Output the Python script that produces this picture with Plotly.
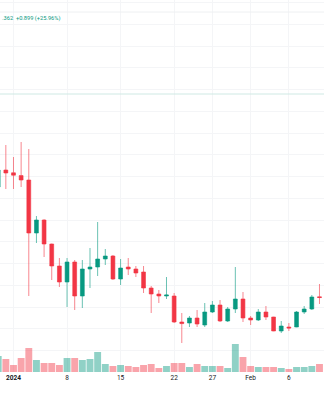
import pandas as pd
import plotly.graph_objects as go

# Daily OHLC candles, 30 Dec 2023 - 10 Feb 2024
dates = pd.date_range("2023-12-30", "2024-02-10", freq="D")

open_ = [7.125, 7.55, 7.48, 7.41, 7.30, 5.975, 6.30, 5.70, 5.15, 4.75,
         5.25, 4.40, 5.075, 5.125, 5.325, 5.40, 4.825, 5.125, 5.075, 5.00,
         4.60, 4.45, 4.40, 4.40, 3.75, 3.725, 3.85, 3.675, 4.00, 4.175,
         3.775, 4.075, 4.325, 3.85, 3.80, 4.00, 3.875, 3.525, 3.625, 3.625,
         4.00, 4.075, 4.38]
high = [7.65, 8.175, 7.875, 8.25, 8.075, 6.40, 6.32, 5.71, 5.35, 5.35,
        5.30, 5.30, 5.60, 6.25, 5.575, 5.425, 5.325, 5.35, 5.15, 5.15,
        4.65, 4.55, 4.875, 4.475, 3.975, 3.90, 4.05, 4.225, 4.275, 4.30,
        4.125, 5.125, 4.50, 3.90, 4.075, 4.15, 3.88, 3.775, 3.725, 4.025,
        4.15, 4.425, 4.70]
low = [7.05, 7.075, 7.075, 7.125, 4.40, 5.725, 5.375, 4.80, 4.625, 4.125,
       4.05, 4.10, 4.60, 4.90, 5.175, 4.80, 4.675, 4.925, 4.875, 4.475,
       3.975, 4.225, 4.325, 3.725, 3.225, 3.625, 3.625, 3.625, 3.975, 3.75,
       3.75, 3.975, 3.75, 3.675, 3.775, 3.80, 3.52, 3.475, 3.525, 3.62,
       3.95, 4.05, 4.20]
close = [7.55, 7.475, 7.42, 7.30, 5.975, 6.30, 5.70, 5.15, 4.75, 5.25,
         4.40, 5.075, 5.125, 5.325, 5.40, 4.825, 5.10, 5.075, 4.975, 4.60,
         4.45, 4.40, 4.425, 3.75, 3.71, 3.85, 3.70, 4.00, 4.175, 3.775,
         4.075, 4.325, 3.85, 3.80, 4.00, 3.875, 3.525, 3.65, 3.60, 4.00,
         4.075, 4.375, 4.362]

# Daily volume (millions)
volume = [16, 13, 7, 14, 24, 12, 9, 9, 7, 14,
          14, 12, 13, 20, 8, 6, 7, 6, 5, 7,
          8, 4, 6, 9, 9, 5, 8, 6, 6, 6,
          4, 28, 15, 6, 5, 5, 5, 4, 3, 5,
          5, 6, 8]

tick_dates = ["2024-01-01", "2024-01-08", "2024-01-15", "2024-01-22",
              "2024-01-27", "2024-02-01", "2024-02-06"]
tick_text = ["<b>2024</b>", "8", "15", "22", "27", "Feb", "6"]

legend_text = ".362  +0.899 (+25.96%)"

UP = "#089981"
DOWN = "#f23645"
UP_VOL = "rgba(8,153,129,0.45)"
DOWN_VOL = "rgba(242,54,69,0.45)"
GRID = "#f4f5f7"

vol_colors = [UP_VOL if c >= o else DOWN_VOL for o, c in zip(open_, close)]

fig = go.Figure()

fig.add_trace(go.Bar(
    x=dates, y=volume, marker=dict(color=vol_colors, line=dict(width=0)),
    yaxis="y2", hoverinfo="skip", showlegend=False,
))

fig.add_trace(go.Candlestick(
    x=dates, open=open_, high=high, low=low, close=close,
    increasing=dict(line=dict(color="rgba(8,153,129,0.6)", width=1), fillcolor=UP),
    decreasing=dict(line=dict(color="rgba(242,54,69,0.6)", width=1), fillcolor=DOWN),
    whiskerwidth=0, showlegend=False,
))

fig.update_layout(
    width=324, height=400,
    margin=dict(l=0, r=0, t=0, b=28),
    paper_bgcolor="white", plot_bgcolor="white",
    bargap=0.1, boxgap=0.28,
    font=dict(family="Roboto, sans-serif", color="#131722"),
    xaxis=dict(
        type="date",
        range=["2023-12-30 05:40", "2024-02-10 14:10"],
        rangeslider=dict(visible=False),
        tickvals=tick_dates, ticktext=tick_text,
        tickfont=dict(size=6.5, color="#131722"),
        showgrid=True, gridcolor=GRID, gridwidth=1,
        zeroline=False, showline=False, ticks="",
    ),
    yaxis=dict(
        range=[2.5, 11.8],
        tick0=6.3, dtick=0.54375,
        showgrid=True, gridcolor=GRID, gridwidth=1,
        showticklabels=False, zeroline=False, showline=False, ticks="",
    ),
    yaxis2=dict(
        overlaying="y", range=[0, 372],
        showgrid=False, showticklabels=False, zeroline=False, showline=False,
    ),
    shapes=[
        dict(type="line", xref="paper", yref="paper", x0=0, x1=1,
             y0=1 - 12 / 372, y1=1 - 12 / 372,
             line=dict(color="#eef0f2", width=1)),
        dict(type="line", xref="paper", yref="paper", x0=0, x1=1,
             y0=1 - 94 / 372, y1=1 - 94 / 372,
             line=dict(color="#cfe9e4", width=1)),
    ],
    annotations=[
        dict(text=legend_text, xref="paper", yref="paper", x=0, y=1 - 18.5 / 372,
             xanchor="left", yanchor="middle", showarrow=False,
             font=dict(size=5.7, color=UP)),
    ],
)

fig.write_html("out.html")
